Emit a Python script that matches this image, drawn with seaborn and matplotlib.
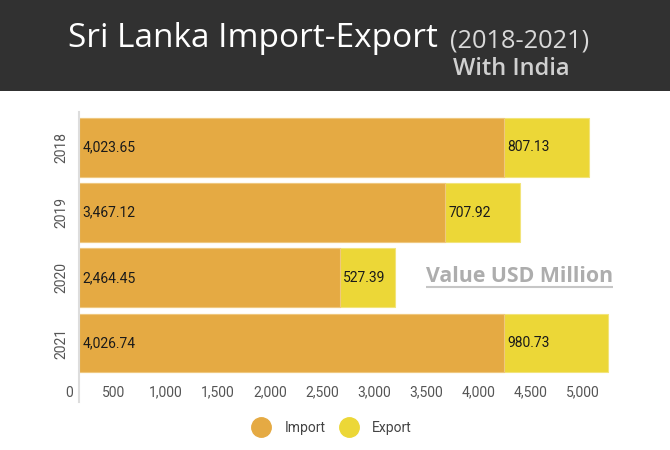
import numpy as np
import pandas as pd
import seaborn as sns
import matplotlib.pyplot as plt
from matplotlib.patches import Rectangle
from matplotlib.lines import Line2D

# ---- data ----
years = ['2018', '2019', '2020', '2021']
imports = [4023.65, 3467.12, 2464.45, 4026.74]
exports = [807.13, 707.92, 527.39, 980.73]
tick_values = [500, 1000, 1500, 2000, 2500, 3000, 3500, 4000, 4500, 5000]
series_names = ['Import', 'Export']

IMP = '#E5AA43'
EXP = '#ECD737'

sns.set_theme(style='white')
plt.rcParams['font.family'] = ['Roboto', 'DejaVu Sans']

df = pd.DataFrame({'Year': years, 'Import': imports, 'Export': exports})
df['Total'] = df['Import'] + df['Export']

fig = plt.figure(figsize=(6.7, 4.5), dpi=100)
fig.patch.set_facecolor('white')

# title band
fig.add_artist(Rectangle((0, 1 - 90.7 / 450), 1, 90.7 / 450, transform=fig.transFigure,
                         facecolor='#313131', edgecolor='none', zorder=0))
fig.text(68.3 / 670, 1 - 47.3 / 450, 'Sri Lanka Import-Export', ha='left', va='baseline',
         fontsize=24, color='white', family='Open Sans', fontweight='medium')
fig.text(450 / 670, 1 - 47.3 / 450, '(2018-2021)', ha='left', va='baseline',
         fontsize=18.3, color='#d9d9d9', family='Open Sans')
fig.text(452.7 / 670, 1 - 75.3 / 450, 'With India', ha='left', va='baseline',
         fontsize=17, color='#d0d0d0', family='Open Sans', fontweight='semibold')

ax = fig.add_axes([79.3 / 670, (450 - 401.7) / 450, (640 - 79.3) / 670, (401.7 - 112.3) / 450])

sns.barplot(data=df, x='Total', y='Year', color=EXP, width=0.904, saturation=1,
            errorbar=None, orient='h', ax=ax, edgecolor='#f2e47a', linewidth=0.8)
sns.barplot(data=df, x='Import', y='Year', color=IMP, width=0.904, saturation=1,
            errorbar=None, orient='h', ax=ax, edgecolor='#efc77e', linewidth=0.8)

ax.set_xlim(0, 5310)
ax.set_ylim(3.90, -0.54)
ax.set_xlabel('')
ax.set_ylabel('')
ax.set_xticks([])
for s in ['top', 'right', 'bottom']:
    ax.spines[s].set_visible(False)
ax.spines['left'].set_color('#dddddd')
ax.spines['left'].set_linewidth(1.5)
ax.tick_params(axis='y', length=0, pad=8, labelsize=10, labelcolor='#555555')
for lab in ax.get_yticklabels():
    lab.set_rotation(90)
    lab.set_va('center')

# x tick labels (shifted like the reference)
a, b = 0.98778, -171.9
sec = ax.secondary_xaxis(0.065, functions=(lambda d: (d - b) / a, lambda s: a * s + b))
sec.set_xticks(tick_values)
sec.set_xticklabels([f'{v:,}' for v in tick_values])
for s in sec.spines.values():
    s.set_visible(False)
sec.tick_params(length=0, pad=2, labelsize=10, labelcolor='#555555')
ax.annotate('0', xy=(0, 0.065), xycoords=('data', 'axes fraction'), xytext=(-7.5, -2),
            textcoords='offset points', ha='center', va='top', fontsize=10, color='#555555')

# value labels
for i, (imp, exp) in enumerate(zip(imports, exports)):
    ax.annotate(f'{imp:,.2f}', xy=(0, i), xytext=(3, 0), textcoords='offset pixels',
                ha='left', va='center', fontsize=10, color='#1a1a1a')
    ax.annotate(f'{exp:,.2f}', xy=(imp, i), xytext=(3, 0), textcoords='offset pixels',
                ha='left', va='center', fontsize=10, color='#1a1a1a')

# unit note with underline
t = ax.text(0.618, 0.434, 'Value USD Million', transform=ax.transAxes, ha='left', va='center',
            fontsize=15.3, fontweight='bold', family='Open Sans', color='#adadad')
fig.canvas.draw()
bb = t.get_window_extent()
inv = ax.transAxes.inverted()
x0 = inv.transform((bb.x0, 0))[0]
x1 = inv.transform((bb.x1, 0))[0]
ax.plot([x0, x1], [0.397, 0.397], transform=ax.transAxes, color='#c6c6c6', lw=1.5,
        solid_capstyle='butt', clip_on=False)

# legend
handles = [Line2D([], [], marker='o', linestyle='', markersize=14, markerfacecolor=c,
                  markeredgecolor=c) for c in (IMP, EXP)]
fig.legend(handles, series_names, loc='center', bbox_to_anchor=(0.495, 0.0496), ncol=2,
           frameon=False, fontsize=10, handlelength=1.4, handletextpad=0.98,
           columnspacing=0.96, labelcolor='#444444')

fig.savefig('out.png', dpi=100)
